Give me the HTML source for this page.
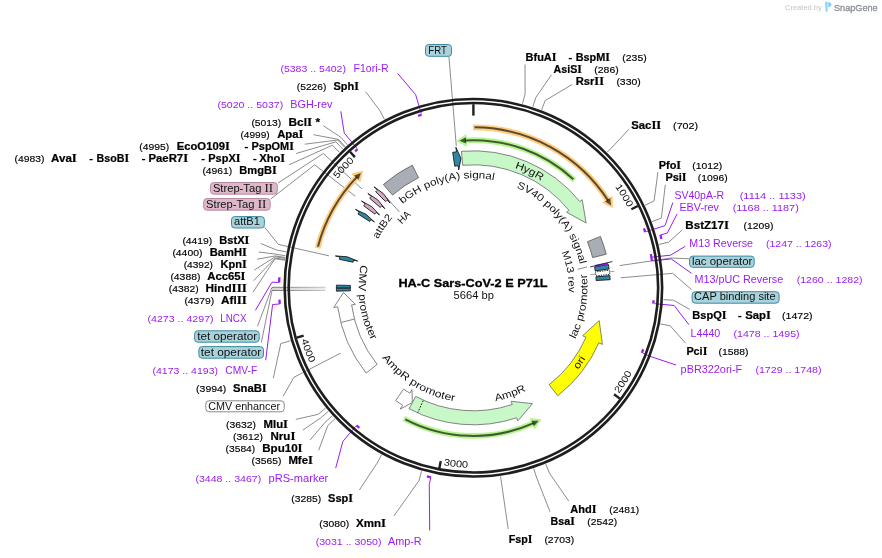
<!DOCTYPE html>
<html><head><meta charset="utf-8"><style>
html,body{margin:0;padding:0;background:#fff;width:882px;height:558px;overflow:hidden}
svg{display:block;will-change:transform;font-family:"Liberation Sans",sans-serif}
</style></head><body>
<svg width="882" height="558" viewBox="0 0 882 558">
<defs><linearGradient id="tetg" x1="0" x2="1" y1="0" y2="0"><stop offset="0" stop-color="#6a6a6a"/><stop offset="1" stop-color="#c4c4c4"/></linearGradient><linearGradient id="tetf" x1="0" x2="1" y1="0" y2="0"><stop offset="0" stop-color="#d4d4d4"/><stop offset="1" stop-color="#ececec"/></linearGradient><path id="tp1" d="M615.07,186.77 A174.0,174.0 0 0 1 627.82,207.62"/><path id="tp2" d="M618.80,393.90 A180.0,180.0 0 0 0 632.24,372.48"/><path id="tp3" d="M443.14,465.24 A180.0,180.0 0 0 0 468.30,467.73"/><path id="tp4" d="M301.05,339.71 A180.0,180.0 0 0 0 310.02,363.35"/><path id="tp5" d="M337.69,178.91 A174.0,174.0 0 0 1 354.28,160.97"/><path id="tp6" d="M402.66,204.09 A109.6,109.6 0 0 1 493.94,180.14"/><path id="tp7" d="M516.34,187.61 A109.0,109.0 0 0 1 579.82,264.21"/><path id="tp8" d="M360.90,264.91 A114.8,114.8 0 0 0 371.30,340.27"/><path id="tp9" d="M382.16,357.81 A115.0,115.0 0 0 0 454.42,401.22"/><path id="tp10" d="M495.44,401.18 A115.5,115.5 0 0 0 526.19,390.53"/><path id="tp11" d="M575.15,339.20 A114.0,114.0 0 0 0 586.57,274.10"/><path id="tp12" d="M561.67,252.14 A95.2,95.2 0 0 1 568.49,292.45"/><path id="tp13" d="M401.87,224.52 A95.5,95.5 0 0 1 411.38,215.18"/><path id="tp14" d="M378.06,239.22 A107.0,107.0 0 0 1 392.65,217.60"/><path id="tp15" d="M514.62,168.10 A126.6,126.6 0 0 1 541.24,180.91"/><path id="tp16" d="M577.90,369.74 A132.8,132.8 0 0 0 585.65,358.76"/></defs>
<rect x="272" y="287.3" width="53.5" height="3.2" fill="url(#tetf)"/>
<path d="M272,287.3 H325.5 M272,290.5 H325.5" stroke="url(#tetg)" stroke-width="0.9" fill="none"/>
<path d="M365.70,91.70 L379.77,110.51 L384.44,119.35" fill="none" stroke="#777" stroke-width="0.85"/>
<path d="M323.20,125.60 L340.87,137.35 L347.48,144.85" fill="none" stroke="#777" stroke-width="0.85"/>
<path d="M313.50,134.70 L338.55,139.43 L345.27,146.83" fill="none" stroke="#777" stroke-width="0.85"/>
<path d="M304.70,144.20 L337.89,140.03 L344.65,147.40" fill="none" stroke="#777" stroke-width="0.85"/>
<path d="M296.10,153.50 L335.93,141.84 L342.79,149.12" fill="none" stroke="#777" stroke-width="0.85"/>
<path d="M288.90,164.80 L332.41,145.24 L339.45,152.35" fill="none" stroke="#777" stroke-width="0.85"/>
<path d="M260.80,243.50 L276.50,249.99 L286.32,251.88" fill="none" stroke="#777" stroke-width="0.85"/>
<path d="M258.60,252.00 L275.74,254.15 L285.60,255.83" fill="none" stroke="#777" stroke-width="0.85"/>
<path d="M257.20,259.20 L275.45,255.91 L285.33,257.50" fill="none" stroke="#777" stroke-width="0.85"/>
<path d="M254.30,270.00 L275.31,256.79 L285.19,258.33" fill="none" stroke="#777" stroke-width="0.85"/>
<path d="M253.60,280.70 L275.11,258.11 L285.00,259.59" fill="none" stroke="#777" stroke-width="0.85"/>
<path d="M252.90,292.20 L275.01,258.77 L284.91,260.21" fill="none" stroke="#777" stroke-width="0.85"/>
<path d="M273.30,378.20 L280.81,343.55 L290.41,340.77" fill="none" stroke="#777" stroke-width="0.85"/>
<path d="M295.80,419.40 L317.92,414.39 L325.67,408.08" fill="none" stroke="#777" stroke-width="0.85"/>
<path d="M302.90,430.10 L320.77,417.81 L328.38,411.33" fill="none" stroke="#777" stroke-width="0.85"/>
<path d="M310.10,440.10 L324.88,422.49 L332.28,415.77" fill="none" stroke="#777" stroke-width="0.85"/>
<path d="M318.70,450.20 L327.75,425.59 L335.01,418.72" fill="none" stroke="#777" stroke-width="0.85"/>
<path d="M359.40,490.00 L376.83,463.51 L381.65,454.75" fill="none" stroke="#777" stroke-width="0.85"/>
<path d="M394.00,515.80 L418.93,480.76 L421.65,471.14" fill="none" stroke="#777" stroke-width="0.85"/>
<path d="M525.00,64.50 L525.08,94.07 L522.50,103.74" fill="none" stroke="#777" stroke-width="0.85"/>
<path d="M551.50,74.80 L535.95,97.31 L532.83,106.81" fill="none" stroke="#777" stroke-width="0.85"/>
<path d="M572.00,84.50 L545.17,100.59 L541.59,109.92" fill="none" stroke="#777" stroke-width="0.85"/>
<path d="M628.70,129.40 L614.23,145.08 L607.20,152.20" fill="none" stroke="#777" stroke-width="0.85"/>
<path d="M657.90,172.30 L654.10,200.92 L645.09,205.25" fill="none" stroke="#777" stroke-width="0.85"/>
<path d="M665.30,184.80 L661.40,218.11 L652.02,221.59" fill="none" stroke="#777" stroke-width="0.85"/>
<path d="M682.40,229.90 L668.64,242.16 L658.90,244.44" fill="none" stroke="#777" stroke-width="0.85"/>
<path d="M689.70,309.40 L673.51,300.25 L663.53,299.63" fill="none" stroke="#777" stroke-width="0.85"/>
<path d="M685.60,343.20 L670.26,325.82 L660.44,323.93" fill="none" stroke="#777" stroke-width="0.85"/>
<path d="M568.70,501.00 L549.51,473.29 L545.72,464.04" fill="none" stroke="#777" stroke-width="0.85"/>
<path d="M550.00,511.70 L536.79,478.01 L533.63,468.53" fill="none" stroke="#777" stroke-width="0.85"/>
<path d="M508.20,529.00 L501.99,486.25 L500.57,476.35" fill="none" stroke="#777" stroke-width="0.85"/>
<path d="M448.90,56.20 L456.30,146.00" fill="none" stroke="#777" stroke-width="0.85"/>
<path d="M278.00,183.00 L323.30,153.50 L362.00,189.00" fill="none" stroke="#777" stroke-width="0.85"/>
<path d="M270.70,199.00 L314.70,164.80 L355.30,196.30" fill="none" stroke="#777" stroke-width="0.85"/>
<path d="M264.70,227.40 L278.40,244.40 L328.90,255.80" fill="none" stroke="#777" stroke-width="0.85"/>
<path d="M257.50,326.30 L272.00,287.30" fill="none" stroke="#777" stroke-width="0.85"/>
<path d="M261.30,342.50 L272.00,290.50" fill="none" stroke="#777" stroke-width="0.85"/>
<path d="M283.20,396.20 L293.90,377.30 L340.50,353.20" fill="none" stroke="#777" stroke-width="0.85"/>
<path d="M689.00,258.80 L671.40,258.00 L619.60,265.60" fill="none" stroke="#777" stroke-width="0.85"/>
<path d="M691.50,289.60 L672.70,273.30 L620.60,277.80" fill="none" stroke="#777" stroke-width="0.85"/>
<path d="M386.90,198.00 L399.40,212.00" fill="none" stroke="#777" stroke-width="0.85"/>
<path d="M577.60,269.30 L587.20,266.90" fill="none" stroke="#777" stroke-width="0.85"/>
<path d="M397.70,73.40 L415.66,94.75 L421.30,113.62" fill="none" stroke="#9a1cf0" stroke-width="1.0"/>
<path d="M340.80,111.30 L344.28,133.11 L356.90,148.23" fill="none" stroke="#9a1cf0" stroke-width="1.0"/>
<path d="M255.40,310.30 L271.98,282.21 L279.17,282.41" fill="none" stroke="#9a1cf0" stroke-width="1.0"/>
<path d="M265.70,360.20 L272.60,304.55 L279.77,303.95" fill="none" stroke="#9a1cf0" stroke-width="1.0"/>
<path d="M335.70,468.10 L342.91,441.34 L355.67,426.33" fill="none" stroke="#9a1cf0" stroke-width="1.0"/>
<path d="M429.70,530.50 L429.28,484.41 L430.85,477.38" fill="none" stroke="#9a1cf0" stroke-width="1.0"/>
<path d="M672.80,202.60 L665.05,225.58 L646.31,231.66" fill="none" stroke="#9a1cf0" stroke-width="1.0"/>
<path d="M677.10,213.90 L667.32,233.06 L660.39,235.02" fill="none" stroke="#9a1cf0" stroke-width="1.0"/>
<path d="M685.20,246.30 L670.50,255.20 L652.59,257.09" fill="none" stroke="#9a1cf0" stroke-width="1.0"/>
<path d="M691.50,273.30 L671.20,258.90 L653.20,260.88" fill="none" stroke="#9a1cf0" stroke-width="1.0"/>
<path d="M688.90,324.70 L674.13,305.44 L654.50,303.71" fill="none" stroke="#9a1cf0" stroke-width="1.0"/>
<path d="M676.00,365.00 L649.40,356.10 L643.01,353.25" fill="none" stroke="#9a1cf0" stroke-width="1.0"/>
<circle cx="473.4" cy="287.8" r="188.75" fill="none" stroke="#1e1e1e" stroke-width="2.6"/>
<circle cx="473.4" cy="287.8" r="184.75" fill="none" stroke="#1e1e1e" stroke-width="2.6"/>
<line x1="473.40" y1="104.20" x2="473.40" y2="115.60" stroke="#1e1e1e" stroke-width="2.4"/>
<line x1="637.79" y1="206.05" x2="631.35" y2="209.25" stroke="#1e1e1e" stroke-width="2.4"/>
<line x1="619.80" y1="398.60" x2="614.06" y2="394.25" stroke="#1e1e1e" stroke-width="2.4"/>
<line x1="439.38" y1="468.22" x2="440.72" y2="461.15" stroke="#1e1e1e" stroke-width="2.4"/>
<line x1="296.70" y1="337.68" x2="303.63" y2="335.72" stroke="#1e1e1e" stroke-width="2.4"/>
<line x1="350.06" y1="151.80" x2="354.90" y2="157.13" stroke="#1e1e1e" stroke-width="2.4"/>
<path d="M421.65,114.77 A180.6,180.6 0 0 0 418.01,115.90" fill="none" stroke="#9a1cf0" stroke-width="2.3"/>
<path d="M357.67,149.15 A180.6,180.6 0 0 0 355.08,151.36" fill="none" stroke="#9a1cf0" stroke-width="2.3"/>
<path d="M279.17,282.41 A194.3,194.3 0 0 1 279.39,277.24" fill="none" stroke="#9a1cf0" stroke-width="2.3"/>
<path d="M279.77,303.95 A194.3,194.3 0 0 1 279.46,299.65" fill="none" stroke="#9a1cf0" stroke-width="2.3"/>
<path d="M356.45,425.42 A180.6,180.6 0 0 0 359.37,427.85" fill="none" stroke="#9a1cf0" stroke-width="2.3"/>
<path d="M430.85,477.38 A194.3,194.3 0 0 1 426.87,476.45" fill="none" stroke="#9a1cf0" stroke-width="2.3"/>
<path d="M645.17,232.03 A180.6,180.6 0 0 0 643.96,228.42" fill="none" stroke="#9a1cf0" stroke-width="2.3"/>
<path d="M660.39,235.02 A194.3,194.3 0 0 1 661.46,238.97" fill="none" stroke="#9a1cf0" stroke-width="2.3"/>
<path d="M651.40,257.29 A180.6,180.6 0 0 0 650.84,254.14" fill="none" stroke="#9a1cf0" stroke-width="2.3"/>
<path d="M652.01,261.05 A180.6,180.6 0 0 0 651.30,256.70" fill="none" stroke="#9a1cf0" stroke-width="2.3"/>
<path d="M653.31,303.61 A180.6,180.6 0 0 0 653.57,300.21" fill="none" stroke="#9a1cf0" stroke-width="2.3"/>
<path d="M641.89,352.82 A180.6,180.6 0 0 0 643.22,349.25" fill="none" stroke="#9a1cf0" stroke-width="2.3"/>
<path d="M472.92,127.30 A160.5,160.5 0 0 1 607.80,200.07" fill="none" stroke="#ffcc80" stroke-width="5.7"/>
<path d="M612.26,207.31 L603.01,202.62 L612.04,196.69 Z" fill="#ffcc80" stroke="#ffcc80" stroke-width="1.2" stroke-linejoin="round"/>
<path d="M474.52,127.30 A160.5,160.5 0 0 1 608.18,200.66" fill="none" stroke="#000" stroke-opacity="0.64" stroke-width="2.0"/>
<path d="M611.14,205.41 L605.04,201.52 L610.23,198.12 Z" fill="#000" fill-opacity="0.64"/>
<path d="M317.53,248.27 A160.8,160.8 0 0 1 356.51,177.37" fill="none" stroke="#ffcc80" stroke-width="5.7"/>
<path d="M362.51,171.35 L360.11,181.43 L352.23,174.04 Z" fill="#ffcc80" stroke="#ffcc80" stroke-width="1.2" stroke-linejoin="round"/>
<path d="M317.93,246.72 A160.8,160.8 0 0 1 356.99,176.87" fill="none" stroke="#000" stroke-opacity="0.64" stroke-width="2.0"/>
<path d="M360.93,172.88 L358.56,179.72 L354.05,175.47 Z" fill="#000" fill-opacity="0.64"/>
<path d="M574.48,180.24 A147.6,147.6 0 0 0 465.67,140.40" fill="none" stroke="#b6f68e" stroke-width="5.7"/>
<path d="M457.20,141.09 L466.44,145.77 L465.91,134.98 Z" fill="#b6f68e" stroke="#b6f68e" stroke-width="1.2" stroke-linejoin="round"/>
<path d="M573.31,179.15 A147.6,147.6 0 0 0 464.98,140.44" fill="none" stroke="#000" stroke-opacity="0.64" stroke-width="2.0"/>
<path d="M459.39,140.87 L466.13,143.48 L465.82,137.29 Z" fill="#000" fill-opacity="0.64"/>
<path d="M403.83,418.54 A148.1,148.1 0 0 0 532.96,423.40" fill="none" stroke="#b6f68e" stroke-width="5.7"/>
<path d="M540.64,419.76 L530.34,418.65 L534.65,428.55 Z" fill="#b6f68e" stroke="#b6f68e" stroke-width="1.2" stroke-linejoin="round"/>
<path d="M405.24,419.29 A148.1,148.1 0 0 0 533.60,423.11" fill="none" stroke="#000" stroke-opacity="0.64" stroke-width="2.0"/>
<path d="M538.67,420.74 L531.44,420.68 L533.92,426.36 Z" fill="#000" fill-opacity="0.64"/>
<path d="M461.46,151.32 A137.0,137.0 0 0 1 579.87,201.58 L582.20,199.70 L586.10,223.00 L566.66,212.28 L568.99,210.39 A123.0,123.0 0 0 0 462.68,165.27 Z" fill="#c8f7c8" stroke="#666" stroke-width="0.8" stroke-linejoin="round"/>
<path d="M557.75,395.76 A137.0,137.0 0 0 0 598.85,342.87 L602.42,344.43 L599.20,320.57 L582.64,335.75 L586.03,337.24 A123.0,123.0 0 0 1 549.13,384.73 Z" fill="#ffff00" stroke="#666" stroke-width="0.8" stroke-linejoin="round"/>
<path d="M395.61,400.57 A137.0,137.0 0 0 0 402.63,405.11 L400.26,409.05 L412.37,402.58 L411.98,389.61 L409.87,393.12 A123.0,123.0 0 0 1 403.56,389.05 Z" fill="#ffffff" stroke="#666" stroke-width="0.8" stroke-linejoin="round"/>
<path d="M409.08,408.76 A137.0,137.0 0 0 0 516.64,417.80 L517.72,421.02 L532.42,403.63 L511.15,401.29 L512.22,404.51 A123.0,123.0 0 0 1 415.65,396.40 Z" fill="#c8f7c8" stroke="#666" stroke-width="0.8" stroke-linejoin="round"/>
<line x1="423.17" y1="400.62" x2="417.88" y2="412.50" stroke="#111" stroke-width="1" stroke-dasharray="1.6,1.4"/>
<path d="M366.18,373.08 A137.0,137.0 0 0 1 337.73,306.87 L333.77,307.42 L343.49,292.56 L355.36,304.39 L351.60,304.92 A123.0,123.0 0 0 0 377.14,364.37 Z" fill="#ffffff" stroke="#666" stroke-width="0.8" stroke-linejoin="round"/>
<line x1="354.04" y1="319.11" x2="341.27" y2="322.46" stroke="#666" stroke-width="0.8"/>
<path d="M383.34,184.56 A137.0,137.0 0 0 1 412.27,165.19 L418.52,177.72 A123.0,123.0 0 0 0 392.54,195.11 Z" fill="#a9adb6" stroke="#555" stroke-width="0.8"/>
<path d="M600.42,236.48 A137.0,137.0 0 0 1 606.21,254.19 L592.64,257.63 A123.0,123.0 0 0 0 587.44,241.72 Z" fill="#a9adb6" stroke="#555" stroke-width="0.8"/>
<path d="M452.68,152.38 A137.0,137.0 0 0 1 456.47,151.85 L455.90,147.29 L460.94,158.40 L458.72,169.91 L458.20,165.74 A123.0,123.0 0 0 0 454.79,166.22 Z" fill="#2f87a6" stroke="#1a1a1a" stroke-width="0.9" stroke-linejoin="round"/>
<path d="M375.68,191.78 A137.0,137.0 0 0 1 377.38,190.08 L374.15,186.80 L383.59,193.81 L390.13,203.07 L387.19,200.07 A123.0,123.0 0 0 0 385.67,201.59 Z" fill="#d9a6c8" stroke="#1a1a1a" stroke-width="0.9" stroke-linejoin="round"/>
<path d="M369.69,198.28 A137.0,137.0 0 0 1 371.27,196.49 L367.84,193.42 L377.71,199.81 L384.84,208.62 L381.71,205.82 A123.0,123.0 0 0 0 380.29,207.43 Z" fill="#d9a6c8" stroke="#1a1a1a" stroke-width="0.9" stroke-linejoin="round"/>
<path d="M363.70,205.73 A137.0,137.0 0 0 1 365.15,203.83 L361.51,201.01 L371.80,206.70 L379.53,214.99 L376.21,212.41 A123.0,123.0 0 0 0 374.91,214.12 Z" fill="#d9a6c8" stroke="#1a1a1a" stroke-width="0.9" stroke-linejoin="round"/>
<path d="M357.98,213.99 A137.0,137.0 0 0 1 359.29,211.99 L355.46,209.44 L366.14,214.35 L374.45,222.06 L370.95,219.73 A123.0,123.0 0 0 0 369.78,221.53 Z" fill="#2f87a6" stroke="#1a1a1a" stroke-width="0.9" stroke-linejoin="round"/>
<path d="M339.39,259.32 A137.0,137.0 0 0 1 339.91,256.98 L335.43,255.95 L347.15,256.79 L357.64,261.08 L353.55,260.13 A123.0,123.0 0 0 0 353.09,262.23 Z" fill="#2f87a6" stroke="#1a1a1a" stroke-width="0.9" stroke-linejoin="round"/>
<path d="M336.40,288.04 A137.0,137.0 0 0 1 336.43,285.17 L350.42,285.44 A123.0,123.0 0 0 0 350.40,288.01 Z" fill="#2f87a6" stroke="#1a1a1a" stroke-width="0.9"/>
<path d="M336.44,291.15 A137.0,137.0 0 0 1 336.40,288.28 L350.40,288.23 A123.0,123.0 0 0 0 350.44,290.81 Z" fill="#2f87a6" stroke="#1a1a1a" stroke-width="0.9"/>
<path d="M608.40,264.48 A137.0,137.0 0 0 1 609.10,268.97 L595.23,270.89 A123.0,123.0 0 0 0 594.61,266.86 Z" fill="#2f87a6" stroke="#1a1a1a" stroke-width="0.9"/>
<path d="M607.61,262.92 A136.5,136.5 0 0 1 607.91,264.57 L595.59,266.69 A124.0,124.0 0 0 0 595.32,265.20 Z" fill="#a020f0" stroke="#7a10d0" stroke-width="0.6"/>
<line x1="590.06" y1="267.02" x2="612.44" y2="261.53" stroke="#222" stroke-width="0.9"/>
<line x1="590.17" y1="274.70" x2="614.43" y2="271.23" stroke="#888" stroke-width="0.8"/>
<path d="M609.26,270.16 A137.0,137.0 0 0 1 609.75,274.43 L595.81,275.80 A123.0,123.0 0 0 0 595.38,271.96 Z" fill="#ffffff" stroke="#222" stroke-width="1.0" stroke-dasharray="1.3,1.1"/>
<path d="M609.86,275.62 A137.0,137.0 0 0 1 610.16,279.68 L596.18,280.51 A123.0,123.0 0 0 0 595.91,276.87 Z" fill="#2f87a6" stroke="#1a1a1a" stroke-width="0.9"/>
<text x="296.80" y="90.00" font-size="9.2" fill="#000" textLength="29.60" lengthAdjust="spacingAndGlyphs" text-anchor="start" stroke="#000" stroke-width="0.15">(5226)</text>
<text x="333.50" y="90.00" font-size="10.8" font-weight="bold" fill="#000" textLength="25.40" lengthAdjust="spacingAndGlyphs" text-anchor="start" stroke="#000" stroke-width="0.22">Sph<tspan font-family="Liberation Serif" font-size="11.9">I</tspan></text>
<text x="251.40" y="125.60" font-size="9.2" fill="#000" textLength="29.90" lengthAdjust="spacingAndGlyphs" text-anchor="start" stroke="#000" stroke-width="0.15">(5013)</text>
<text x="288.50" y="125.60" font-size="10.8" font-weight="bold" fill="#000" textLength="31.50" lengthAdjust="spacingAndGlyphs" text-anchor="start" stroke="#000" stroke-width="0.22">Bcl<tspan font-family="Liberation Serif" font-size="11.9">I</tspan> *</text>
<text x="240.50" y="138.00" font-size="9.2" fill="#000" textLength="29.20" lengthAdjust="spacingAndGlyphs" text-anchor="start" stroke="#000" stroke-width="0.15">(4999)</text>
<text x="277.20" y="138.00" font-size="10.8" font-weight="bold" fill="#000" textLength="26.20" lengthAdjust="spacingAndGlyphs" text-anchor="start" stroke="#000" stroke-width="0.22">Apa<tspan font-family="Liberation Serif" font-size="11.9">I</tspan></text>
<text x="139.20" y="150.00" font-size="9.2" fill="#000" textLength="29.90" lengthAdjust="spacingAndGlyphs" text-anchor="start" stroke="#000" stroke-width="0.15">(4995)</text>
<text x="176.70" y="150.00" font-size="10.8" font-weight="bold" fill="#000" textLength="53.10" lengthAdjust="spacingAndGlyphs" text-anchor="start" stroke="#000" stroke-width="0.22">EcoO109<tspan font-family="Liberation Serif" font-size="11.9">I</tspan></text>
<text x="244.30" y="150.00" font-size="10.8" font-weight="bold" fill="#000" textLength="4.20" lengthAdjust="spacingAndGlyphs" text-anchor="start">-</text>
<text x="251.50" y="150.00" font-size="10.8" font-weight="bold" fill="#000" textLength="42.40" lengthAdjust="spacingAndGlyphs" text-anchor="start" stroke="#000" stroke-width="0.22">PspOM<tspan font-family="Liberation Serif" font-size="11.9">I</tspan></text>
<text x="14.50" y="162.00" font-size="9.2" fill="#000" textLength="29.90" lengthAdjust="spacingAndGlyphs" text-anchor="start" stroke="#000" stroke-width="0.15">(4983)</text>
<text x="51.10" y="162.00" font-size="10.8" font-weight="bold" fill="#000" textLength="25.70" lengthAdjust="spacingAndGlyphs" text-anchor="start" stroke="#000" stroke-width="0.22">Ava<tspan font-family="Liberation Serif" font-size="11.9">I</tspan></text>
<text x="89.00" y="162.00" font-size="10.8" font-weight="bold" fill="#000" textLength="4.20" lengthAdjust="spacingAndGlyphs" text-anchor="start">-</text>
<text x="96.50" y="162.00" font-size="10.8" font-weight="bold" fill="#000" textLength="32.50" lengthAdjust="spacingAndGlyphs" text-anchor="start" stroke="#000" stroke-width="0.22">BsoB<tspan font-family="Liberation Serif" font-size="11.9">I</tspan></text>
<text x="141.40" y="162.00" font-size="10.8" font-weight="bold" fill="#000" textLength="4.20" lengthAdjust="spacingAndGlyphs" text-anchor="start">-</text>
<text x="148.40" y="162.00" font-size="10.8" font-weight="bold" fill="#000" textLength="39.70" lengthAdjust="spacingAndGlyphs" text-anchor="start" stroke="#000" stroke-width="0.22">PaeR7<tspan font-family="Liberation Serif" font-size="11.9">I</tspan></text>
<text x="201.00" y="162.00" font-size="10.8" font-weight="bold" fill="#000" textLength="4.20" lengthAdjust="spacingAndGlyphs" text-anchor="start">-</text>
<text x="208.30" y="162.00" font-size="10.8" font-weight="bold" fill="#000" textLength="32.20" lengthAdjust="spacingAndGlyphs" text-anchor="start" stroke="#000" stroke-width="0.22">PspX<tspan font-family="Liberation Serif" font-size="11.9">I</tspan></text>
<text x="252.70" y="162.00" font-size="10.8" font-weight="bold" fill="#000" textLength="4.20" lengthAdjust="spacingAndGlyphs" text-anchor="start">-</text>
<text x="259.20" y="162.00" font-size="10.8" font-weight="bold" fill="#000" textLength="26.00" lengthAdjust="spacingAndGlyphs" text-anchor="start" stroke="#000" stroke-width="0.22">Xho<tspan font-family="Liberation Serif" font-size="11.9">I</tspan></text>
<text x="202.40" y="173.80" font-size="9.2" fill="#000" textLength="29.90" lengthAdjust="spacingAndGlyphs" text-anchor="start" stroke="#000" stroke-width="0.15">(4961)</text>
<text x="239.30" y="173.80" font-size="10.8" font-weight="bold" fill="#000" textLength="37.40" lengthAdjust="spacingAndGlyphs" text-anchor="start" stroke="#000" stroke-width="0.22">BmgB<tspan font-family="Liberation Serif" font-size="11.9">I</tspan></text>
<text x="182.40" y="243.60" font-size="9.2" fill="#000" textLength="29.90" lengthAdjust="spacingAndGlyphs" text-anchor="start" stroke="#000" stroke-width="0.15">(4419)</text>
<text x="219.30" y="243.60" font-size="10.8" font-weight="bold" fill="#000" textLength="30.00" lengthAdjust="spacingAndGlyphs" text-anchor="start" stroke="#000" stroke-width="0.22">BstX<tspan font-family="Liberation Serif" font-size="11.9">I</tspan></text>
<text x="172.40" y="255.60" font-size="9.2" fill="#000" textLength="30.00" lengthAdjust="spacingAndGlyphs" text-anchor="start" stroke="#000" stroke-width="0.15">(4400)</text>
<text x="209.80" y="255.60" font-size="10.8" font-weight="bold" fill="#000" textLength="37.00" lengthAdjust="spacingAndGlyphs" text-anchor="start" stroke="#000" stroke-width="0.22">BamH<tspan font-family="Liberation Serif" font-size="11.9">I</tspan></text>
<text x="183.70" y="267.60" font-size="9.2" fill="#000" textLength="29.30" lengthAdjust="spacingAndGlyphs" text-anchor="start" stroke="#000" stroke-width="0.15">(4392)</text>
<text x="220.60" y="267.60" font-size="10.8" font-weight="bold" fill="#000" textLength="26.20" lengthAdjust="spacingAndGlyphs" text-anchor="start" stroke="#000" stroke-width="0.22">Kpn<tspan font-family="Liberation Serif" font-size="11.9">I</tspan></text>
<text x="170.40" y="279.80" font-size="9.2" fill="#000" textLength="30.00" lengthAdjust="spacingAndGlyphs" text-anchor="start" stroke="#000" stroke-width="0.15">(4388)</text>
<text x="207.30" y="279.80" font-size="10.8" font-weight="bold" fill="#000" textLength="38.20" lengthAdjust="spacingAndGlyphs" text-anchor="start" stroke="#000" stroke-width="0.22">Acc65<tspan font-family="Liberation Serif" font-size="11.9">I</tspan></text>
<text x="168.70" y="291.70" font-size="9.2" fill="#000" textLength="29.90" lengthAdjust="spacingAndGlyphs" text-anchor="start" stroke="#000" stroke-width="0.15">(4382)</text>
<text x="205.40" y="291.70" font-size="10.8" font-weight="bold" fill="#000" textLength="41.40" lengthAdjust="spacingAndGlyphs" text-anchor="start" stroke="#000" stroke-width="0.22">Hind<tspan font-family="Liberation Serif" font-size="11.9">I</tspan><tspan font-family="Liberation Serif" font-size="11.9">I</tspan><tspan font-family="Liberation Serif" font-size="11.9">I</tspan></text>
<text x="184.40" y="303.70" font-size="9.2" fill="#000" textLength="29.90" lengthAdjust="spacingAndGlyphs" text-anchor="start" stroke="#000" stroke-width="0.15">(4379)</text>
<text x="221.00" y="303.70" font-size="10.8" font-weight="bold" fill="#000" textLength="25.80" lengthAdjust="spacingAndGlyphs" text-anchor="start" stroke="#000" stroke-width="0.22">Afl<tspan font-family="Liberation Serif" font-size="11.9">I</tspan><tspan font-family="Liberation Serif" font-size="11.9">I</tspan></text>
<text x="196.10" y="391.60" font-size="9.2" fill="#000" textLength="30.20" lengthAdjust="spacingAndGlyphs" text-anchor="start" stroke="#000" stroke-width="0.15">(3994)</text>
<text x="233.00" y="391.60" font-size="10.8" font-weight="bold" fill="#000" textLength="33.70" lengthAdjust="spacingAndGlyphs" text-anchor="start" stroke="#000" stroke-width="0.22">SnaB<tspan font-family="Liberation Serif" font-size="11.9">I</tspan></text>
<text x="226.00" y="428.00" font-size="9.2" fill="#000" textLength="30.00" lengthAdjust="spacingAndGlyphs" text-anchor="start" stroke="#000" stroke-width="0.15">(3632)</text>
<text x="263.50" y="428.00" font-size="10.8" font-weight="bold" fill="#000" textLength="24.50" lengthAdjust="spacingAndGlyphs" text-anchor="start" stroke="#000" stroke-width="0.22">Mlu<tspan font-family="Liberation Serif" font-size="11.9">I</tspan></text>
<text x="233.00" y="440.00" font-size="9.2" fill="#000" textLength="30.00" lengthAdjust="spacingAndGlyphs" text-anchor="start" stroke="#000" stroke-width="0.15">(3612)</text>
<text x="270.50" y="440.00" font-size="10.8" font-weight="bold" fill="#000" textLength="24.90" lengthAdjust="spacingAndGlyphs" text-anchor="start" stroke="#000" stroke-width="0.22">Nru<tspan font-family="Liberation Serif" font-size="11.9">I</tspan></text>
<text x="225.60" y="451.80" font-size="9.2" fill="#000" textLength="29.60" lengthAdjust="spacingAndGlyphs" text-anchor="start" stroke="#000" stroke-width="0.15">(3584)</text>
<text x="262.20" y="451.80" font-size="10.8" font-weight="bold" fill="#000" textLength="40.40" lengthAdjust="spacingAndGlyphs" text-anchor="start" stroke="#000" stroke-width="0.22">Bpu10<tspan font-family="Liberation Serif" font-size="11.9">I</tspan></text>
<text x="251.50" y="464.00" font-size="9.2" fill="#000" textLength="29.90" lengthAdjust="spacingAndGlyphs" text-anchor="start" stroke="#000" stroke-width="0.15">(3565)</text>
<text x="288.40" y="464.00" font-size="10.8" font-weight="bold" fill="#000" textLength="24.50" lengthAdjust="spacingAndGlyphs" text-anchor="start" stroke="#000" stroke-width="0.22">Mfe<tspan font-family="Liberation Serif" font-size="11.9">I</tspan></text>
<text x="291.20" y="501.70" font-size="9.2" fill="#000" textLength="30.00" lengthAdjust="spacingAndGlyphs" text-anchor="start" stroke="#000" stroke-width="0.15">(3285)</text>
<text x="328.10" y="501.70" font-size="10.8" font-weight="bold" fill="#000" textLength="25.00" lengthAdjust="spacingAndGlyphs" text-anchor="start" stroke="#000" stroke-width="0.22">Ssp<tspan font-family="Liberation Serif" font-size="11.9">I</tspan></text>
<text x="319.20" y="526.60" font-size="9.2" fill="#000" textLength="29.90" lengthAdjust="spacingAndGlyphs" text-anchor="start" stroke="#000" stroke-width="0.15">(3080)</text>
<text x="356.10" y="526.60" font-size="10.8" font-weight="bold" fill="#000" textLength="29.90" lengthAdjust="spacingAndGlyphs" text-anchor="start" stroke="#000" stroke-width="0.22">Xmn<tspan font-family="Liberation Serif" font-size="11.9">I</tspan></text>
<text x="525.60" y="60.90" font-size="10.8" font-weight="bold" fill="#000" textLength="30.90" lengthAdjust="spacingAndGlyphs" text-anchor="start" stroke="#000" stroke-width="0.22">BfuA<tspan font-family="Liberation Serif" font-size="11.9">I</tspan></text>
<text x="568.30" y="60.90" font-size="10.8" font-weight="bold" fill="#000" textLength="4.20" lengthAdjust="spacingAndGlyphs" text-anchor="start">-</text>
<text x="575.70" y="60.90" font-size="10.8" font-weight="bold" fill="#000" textLength="34.20" lengthAdjust="spacingAndGlyphs" text-anchor="start" stroke="#000" stroke-width="0.22">BspM<tspan font-family="Liberation Serif" font-size="11.9">I</tspan></text>
<text x="622.30" y="60.90" font-size="9.2" fill="#000" textLength="24.40" lengthAdjust="spacingAndGlyphs" text-anchor="start" stroke="#000" stroke-width="0.15">(235)</text>
<text x="553.60" y="72.70" font-size="10.8" font-weight="bold" fill="#000" textLength="28.30" lengthAdjust="spacingAndGlyphs" text-anchor="start" stroke="#000" stroke-width="0.22">AsiS<tspan font-family="Liberation Serif" font-size="11.9">I</tspan></text>
<text x="594.30" y="72.70" font-size="9.2" fill="#000" textLength="24.40" lengthAdjust="spacingAndGlyphs" text-anchor="start" stroke="#000" stroke-width="0.15">(286)</text>
<text x="575.70" y="85.10" font-size="10.8" font-weight="bold" fill="#000" textLength="28.30" lengthAdjust="spacingAndGlyphs" text-anchor="start" stroke="#000" stroke-width="0.22">Rsr<tspan font-family="Liberation Serif" font-size="11.9">I</tspan><tspan font-family="Liberation Serif" font-size="11.9">I</tspan></text>
<text x="616.40" y="85.10" font-size="9.2" fill="#000" textLength="24.40" lengthAdjust="spacingAndGlyphs" text-anchor="start" stroke="#000" stroke-width="0.15">(330)</text>
<text x="631.20" y="129.20" font-size="10.8" font-weight="bold" fill="#000" textLength="30.00" lengthAdjust="spacingAndGlyphs" text-anchor="start" stroke="#000" stroke-width="0.22">Sac<tspan font-family="Liberation Serif" font-size="11.9">I</tspan><tspan font-family="Liberation Serif" font-size="11.9">I</tspan></text>
<text x="673.10" y="129.20" font-size="9.2" fill="#000" textLength="25.00" lengthAdjust="spacingAndGlyphs" text-anchor="start" stroke="#000" stroke-width="0.15">(702)</text>
<text x="658.70" y="169.10" font-size="10.8" font-weight="bold" fill="#000" textLength="22.40" lengthAdjust="spacingAndGlyphs" text-anchor="start" stroke="#000" stroke-width="0.22">Pfo<tspan font-family="Liberation Serif" font-size="11.9">I</tspan></text>
<text x="692.30" y="169.10" font-size="9.2" fill="#000" textLength="30.00" lengthAdjust="spacingAndGlyphs" text-anchor="start" stroke="#000" stroke-width="0.15">(1012)</text>
<text x="665.40" y="181.00" font-size="10.8" font-weight="bold" fill="#000" textLength="21.20" lengthAdjust="spacingAndGlyphs" text-anchor="start" stroke="#000" stroke-width="0.22">Psi<tspan font-family="Liberation Serif" font-size="11.9">I</tspan></text>
<text x="697.80" y="181.00" font-size="9.2" fill="#000" textLength="30.00" lengthAdjust="spacingAndGlyphs" text-anchor="start" stroke="#000" stroke-width="0.15">(1096)</text>
<text x="685.30" y="228.60" font-size="10.8" font-weight="bold" fill="#000" textLength="43.70" lengthAdjust="spacingAndGlyphs" text-anchor="start" stroke="#000" stroke-width="0.22">BstZ17<tspan font-family="Liberation Serif" font-size="11.9">I</tspan></text>
<text x="743.50" y="228.60" font-size="9.2" fill="#000" textLength="29.90" lengthAdjust="spacingAndGlyphs" text-anchor="start" stroke="#000" stroke-width="0.15">(1209)</text>
<text x="692.30" y="319.20" font-size="10.8" font-weight="bold" fill="#000" textLength="34.20" lengthAdjust="spacingAndGlyphs" text-anchor="start" stroke="#000" stroke-width="0.22">BspQ<tspan font-family="Liberation Serif" font-size="11.9">I</tspan></text>
<text x="737.70" y="319.20" font-size="10.8" font-weight="bold" fill="#000" textLength="4.20" lengthAdjust="spacingAndGlyphs" text-anchor="start">-</text>
<text x="745.20" y="319.20" font-size="10.8" font-weight="bold" fill="#000" textLength="25.70" lengthAdjust="spacingAndGlyphs" text-anchor="start" stroke="#000" stroke-width="0.22">Sap<tspan font-family="Liberation Serif" font-size="11.9">I</tspan></text>
<text x="782.10" y="319.20" font-size="9.2" fill="#000" textLength="30.50" lengthAdjust="spacingAndGlyphs" text-anchor="start" stroke="#000" stroke-width="0.15">(1472)</text>
<text x="686.40" y="354.80" font-size="10.8" font-weight="bold" fill="#000" textLength="20.90" lengthAdjust="spacingAndGlyphs" text-anchor="start" stroke="#000" stroke-width="0.22">Pci<tspan font-family="Liberation Serif" font-size="11.9">I</tspan></text>
<text x="718.50" y="354.80" font-size="9.2" fill="#000" textLength="30.00" lengthAdjust="spacingAndGlyphs" text-anchor="start" stroke="#000" stroke-width="0.15">(1588)</text>
<text x="570.30" y="512.90" font-size="10.8" font-weight="bold" fill="#000" textLength="26.20" lengthAdjust="spacingAndGlyphs" text-anchor="start" stroke="#000" stroke-width="0.22">Ahd<tspan font-family="Liberation Serif" font-size="11.9">I</tspan></text>
<text x="609.20" y="512.90" font-size="9.2" fill="#000" textLength="29.90" lengthAdjust="spacingAndGlyphs" text-anchor="start" stroke="#000" stroke-width="0.15">(2481)</text>
<text x="550.60" y="524.90" font-size="10.8" font-weight="bold" fill="#000" textLength="24.20" lengthAdjust="spacingAndGlyphs" text-anchor="start" stroke="#000" stroke-width="0.22">Bsa<tspan font-family="Liberation Serif" font-size="11.9">I</tspan></text>
<text x="587.30" y="524.90" font-size="9.2" fill="#000" textLength="29.90" lengthAdjust="spacingAndGlyphs" text-anchor="start" stroke="#000" stroke-width="0.15">(2542)</text>
<text x="508.70" y="542.80" font-size="10.8" font-weight="bold" fill="#000" textLength="23.70" lengthAdjust="spacingAndGlyphs" text-anchor="start" stroke="#000" stroke-width="0.22">Fsp<tspan font-family="Liberation Serif" font-size="11.9">I</tspan></text>
<text x="544.40" y="542.80" font-size="9.2" fill="#000" textLength="29.90" lengthAdjust="spacingAndGlyphs" text-anchor="start" stroke="#000" stroke-width="0.15">(2703)</text>
<text x="280.40" y="72.00" font-size="9.2" fill="#9a1cf0" textLength="65.60" lengthAdjust="spacingAndGlyphs" text-anchor="start">(5383 .. 5402)</text>
<text x="353.50" y="72.00" font-size="10.6" fill="#9a1cf0" textLength="35.10" lengthAdjust="spacingAndGlyphs" text-anchor="start">F1ori-R</text>
<text x="217.40" y="108.00" font-size="9.2" fill="#9a1cf0" textLength="65.80" lengthAdjust="spacingAndGlyphs" text-anchor="start">(5020 .. 5037)</text>
<text x="290.30" y="108.00" font-size="10.6" fill="#9a1cf0" textLength="42.00" lengthAdjust="spacingAndGlyphs" text-anchor="start">BGH-rev</text>
<text x="147.50" y="321.90" font-size="9.2" fill="#9a1cf0" textLength="66.10" lengthAdjust="spacingAndGlyphs" text-anchor="start">(4273 .. 4297)</text>
<text x="220.30" y="321.90" font-size="10.6" fill="#9a1cf0" textLength="26.20" lengthAdjust="spacingAndGlyphs" text-anchor="start">LNCX</text>
<text x="152.50" y="373.70" font-size="9.2" fill="#9a1cf0" textLength="65.50" lengthAdjust="spacingAndGlyphs" text-anchor="start">(4173 .. 4193)</text>
<text x="225.30" y="373.70" font-size="10.6" fill="#9a1cf0" textLength="31.90" lengthAdjust="spacingAndGlyphs" text-anchor="start">CMV-F</text>
<text x="195.40" y="481.60" font-size="9.2" fill="#9a1cf0" textLength="65.80" lengthAdjust="spacingAndGlyphs" text-anchor="start">(3448 .. 3467)</text>
<text x="268.50" y="481.60" font-size="10.6" fill="#9a1cf0" textLength="59.80" lengthAdjust="spacingAndGlyphs" text-anchor="start">pRS-marker</text>
<text x="315.70" y="544.80" font-size="9.2" fill="#9a1cf0" textLength="65.80" lengthAdjust="spacingAndGlyphs" text-anchor="start">(3031 .. 3050)</text>
<text x="388.00" y="544.80" font-size="10.6" fill="#9a1cf0" textLength="33.70" lengthAdjust="spacingAndGlyphs" text-anchor="start">Amp-R</text>
<text x="674.40" y="198.70" font-size="10.6" fill="#9a1cf0" textLength="49.60" lengthAdjust="spacingAndGlyphs" text-anchor="start">SV40pA-R</text>
<text x="739.70" y="198.70" font-size="9.2" fill="#9a1cf0" textLength="66.10" lengthAdjust="spacingAndGlyphs" text-anchor="start">(1114 .. 1133)</text>
<text x="679.40" y="210.70" font-size="10.6" fill="#9a1cf0" textLength="39.60" lengthAdjust="spacingAndGlyphs" text-anchor="start">EBV-rev</text>
<text x="732.70" y="210.70" font-size="9.2" fill="#9a1cf0" textLength="66.10" lengthAdjust="spacingAndGlyphs" text-anchor="start">(1168 .. 1187)</text>
<text x="689.30" y="246.60" font-size="10.6" fill="#9a1cf0" textLength="63.70" lengthAdjust="spacingAndGlyphs" text-anchor="start">M13 Reverse</text>
<text x="766.00" y="246.60" font-size="9.2" fill="#9a1cf0" textLength="65.50" lengthAdjust="spacingAndGlyphs" text-anchor="start">(1247 .. 1263)</text>
<text x="694.40" y="282.60" font-size="10.6" fill="#9a1cf0" textLength="88.80" lengthAdjust="spacingAndGlyphs" text-anchor="start">M13/pUC Reverse</text>
<text x="796.70" y="282.60" font-size="9.2" fill="#9a1cf0" textLength="65.90" lengthAdjust="spacingAndGlyphs" text-anchor="start">(1260 .. 1282)</text>
<text x="690.60" y="336.90" font-size="10.6" fill="#9a1cf0" textLength="29.70" lengthAdjust="spacingAndGlyphs" text-anchor="start">L4440</text>
<text x="733.50" y="336.90" font-size="9.2" fill="#9a1cf0" textLength="66.10" lengthAdjust="spacingAndGlyphs" text-anchor="start">(1478 .. 1495)</text>
<text x="680.60" y="372.80" font-size="10.6" fill="#9a1cf0" textLength="61.60" lengthAdjust="spacingAndGlyphs" text-anchor="start">pBR322ori-F</text>
<text x="755.40" y="372.80" font-size="9.2" fill="#9a1cf0" textLength="66.10" lengthAdjust="spacingAndGlyphs" text-anchor="start">(1729 .. 1748)</text>
<rect x="425.50" y="44.50" width="26.00" height="11.80" rx="3.2" fill="#a9d3dc" stroke="#3f8aa0" stroke-width="1"/>
<text x="428.30" y="53.80" font-size="10.2" fill="#111" textLength="18.50" lengthAdjust="spacingAndGlyphs" text-anchor="start">FRT</text>
<rect x="210.50" y="182.50" width="66.80" height="11.70" rx="3.2" fill="#dcb8c9" stroke="#b98aa2" stroke-width="1"/>
<text x="212.90" y="191.80" font-size="10.2" fill="#111" textLength="60.20" lengthAdjust="spacingAndGlyphs" text-anchor="start">Strep-Tag <tspan font-family="Liberation Serif" font-size="11.8">I</tspan><tspan font-family="Liberation Serif" font-size="11.8">I</tspan></text>
<rect x="203.70" y="198.50" width="66.50" height="11.70" rx="3.2" fill="#dcb8c9" stroke="#b98aa2" stroke-width="1"/>
<text x="206.10" y="207.80" font-size="10.2" fill="#111" textLength="60.20" lengthAdjust="spacingAndGlyphs" text-anchor="start">Strep-Tag <tspan font-family="Liberation Serif" font-size="11.8">I</tspan><tspan font-family="Liberation Serif" font-size="11.8">I</tspan></text>
<rect x="231.50" y="216.60" width="32.90" height="11.40" rx="3.2" fill="#a9d3dc" stroke="#3f8aa0" stroke-width="1"/>
<text x="234.00" y="225.40" font-size="10.2" fill="#111" textLength="25.90" lengthAdjust="spacingAndGlyphs" text-anchor="start">attB1</text>
<rect x="194.60" y="330.80" width="64.60" height="11.40" rx="3.2" fill="#a9d3dc" stroke="#3f8aa0" stroke-width="1"/>
<text x="197.20" y="339.70" font-size="10.2" fill="#111" textLength="60.00" lengthAdjust="spacingAndGlyphs" text-anchor="start">tet operator</text>
<rect x="198.90" y="346.60" width="64.60" height="11.60" rx="3.2" fill="#a9d3dc" stroke="#3f8aa0" stroke-width="1"/>
<text x="200.80" y="355.50" font-size="10.2" fill="#111" textLength="60.40" lengthAdjust="spacingAndGlyphs" text-anchor="start">tet operator</text>
<rect x="205.80" y="400.80" width="78.40" height="11.00" rx="3.2" fill="#ffffff" stroke="#8a8a8a" stroke-width="1"/>
<text x="208.20" y="409.80" font-size="10.2" fill="#111" textLength="71.90" lengthAdjust="spacingAndGlyphs" text-anchor="start">CMV enhancer</text>
<rect x="689.60" y="256.10" width="64.60" height="11.20" rx="3.2" fill="#a9d3dc" stroke="#3f8aa0" stroke-width="1"/>
<text x="691.90" y="264.70" font-size="10.2" fill="#111" textLength="60.50" lengthAdjust="spacingAndGlyphs" text-anchor="start">lac operator</text>
<rect x="692.10" y="291.70" width="87.00" height="11.50" rx="3.2" fill="#a9d3dc" stroke="#3f8aa0" stroke-width="1"/>
<text x="694.10" y="299.90" font-size="10.2" fill="#111" textLength="81.50" lengthAdjust="spacingAndGlyphs" text-anchor="start">CAP binding site</text>
<text font-size="9.6" fill="#111" textLength="24.60" lengthAdjust="spacingAndGlyphs"><textPath href="#tp1" startOffset="50%" text-anchor="middle">1000</textPath></text>
<text font-size="9.6" fill="#111" textLength="24.60" lengthAdjust="spacingAndGlyphs"><textPath href="#tp2" startOffset="50%" text-anchor="middle">2000</textPath></text>
<text font-size="9.6" fill="#111" textLength="24.60" lengthAdjust="spacingAndGlyphs"><textPath href="#tp3" startOffset="50%" text-anchor="middle">3000</textPath></text>
<text font-size="9.6" fill="#111" textLength="24.60" lengthAdjust="spacingAndGlyphs"><textPath href="#tp4" startOffset="50%" text-anchor="middle">4000</textPath></text>
<text font-size="9.6" fill="#111" textLength="24.60" lengthAdjust="spacingAndGlyphs"><textPath href="#tp5" startOffset="50%" text-anchor="middle">5000</textPath></text>
<text font-size="10.2" fill="#111" textLength="97.56" lengthAdjust="spacingAndGlyphs"><textPath href="#tp6" startOffset="50%" text-anchor="middle">bGH poly(A) signal</textPath></text>
<text font-size="10.2" fill="#111" textLength="103.30" lengthAdjust="spacingAndGlyphs"><textPath href="#tp7" startOffset="50%" text-anchor="middle">SV40 poly(A) signal</textPath></text>
<text font-size="10.6" fill="#111" textLength="77.54" lengthAdjust="spacingAndGlyphs"><textPath href="#tp8" startOffset="50%" text-anchor="middle">CMV promoter</textPath></text>
<text font-size="10.2" fill="#111" textLength="86.31" lengthAdjust="spacingAndGlyphs"><textPath href="#tp9" startOffset="50%" text-anchor="middle">AmpR promoter</textPath></text>
<text font-size="10.2" fill="#111" textLength="32.66" lengthAdjust="spacingAndGlyphs"><textPath href="#tp10" startOffset="50%" text-anchor="middle">AmpR</textPath></text>
<text font-size="10.2" fill="#111" textLength="67.05" lengthAdjust="spacingAndGlyphs"><textPath href="#tp11" startOffset="50%" text-anchor="middle">lac promoter</textPath></text>
<text font-size="9.9" fill="#111" textLength="41.21" lengthAdjust="spacingAndGlyphs"><textPath href="#tp12" startOffset="50%" text-anchor="middle">M13 rev</textPath></text>
<text font-size="10.2" fill="#111" textLength="13.33" lengthAdjust="spacingAndGlyphs"><textPath href="#tp13" startOffset="50%" text-anchor="middle">HA</textPath></text>
<text font-size="10.2" fill="#111" textLength="26.15" lengthAdjust="spacingAndGlyphs"><textPath href="#tp14" startOffset="50%" text-anchor="middle">attB2</textPath></text>
<text font-size="10.2" fill="#111" textLength="29.61" lengthAdjust="spacingAndGlyphs"><textPath href="#tp15" startOffset="50%" text-anchor="middle">HygR</textPath></text>
<text font-size="10.0" fill="#111" textLength="13.44" lengthAdjust="spacingAndGlyphs"><textPath href="#tp16" startOffset="50%" text-anchor="middle">ori</textPath></text>
<text x="398.40" y="287.20" font-size="11.8" font-weight="bold" fill="#000" textLength="149.20" lengthAdjust="spacingAndGlyphs" text-anchor="start" stroke="#000" stroke-width="0.3">HA-C Sars-CoV-2 E P71L</text>
<text x="453.60" y="299.30" font-size="10.2" fill="#111" textLength="40.40" lengthAdjust="spacingAndGlyphs" text-anchor="start">5664 bp</text>
<text x="785.00" y="10.40" font-size="7.2" fill="#c4c4c4" textLength="36.80" lengthAdjust="spacingAndGlyphs" text-anchor="start">Created by</text>
<text x="834.00" y="10.80" font-size="9.8" fill="#8d9298" textLength="43.60" lengthAdjust="spacingAndGlyphs" text-anchor="start" stroke="#8d9298" stroke-width="0.35">SnapGene</text>
<path d="M824.9,1.8 L827.6,1.8 L827.6,11 L826.6,12.8 L825.6,11 Z" fill="#8fd6fb"/>
<path d="M828.2,2.2 C830.5,2.2 831.4,3.2 831.4,4.5 C831.4,5.9 830.3,6.8 828.2,7.2 Z" fill="#7fd0fa"/>
</svg>
</body></html>
